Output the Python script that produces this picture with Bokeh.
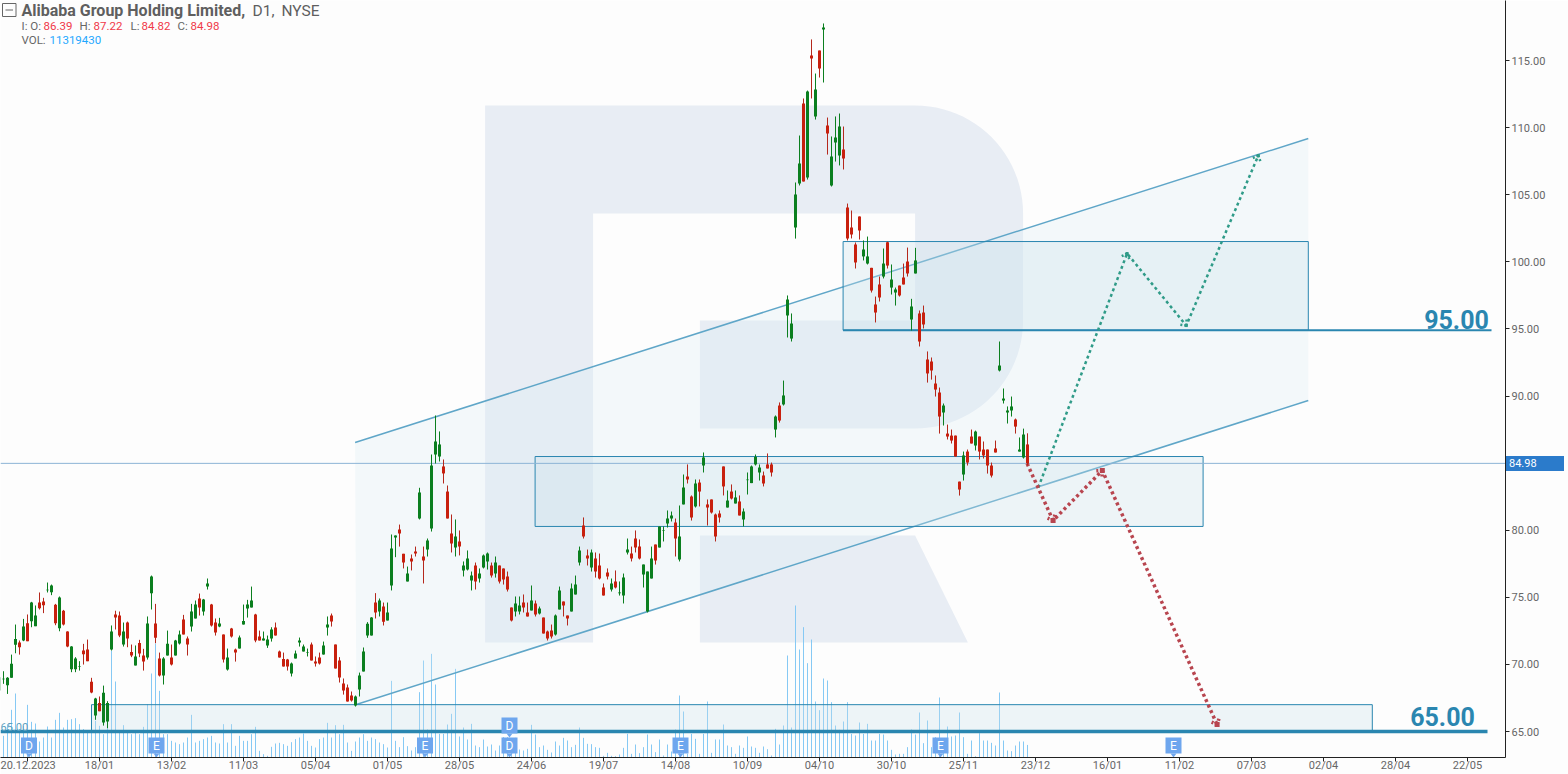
import math
from bokeh.plotting import figure
from bokeh.models import ColumnDataSource, FixedTicker, Range1d, Div
from bokeh.core.properties import value
from bokeh.embed import file_html
from bokeh.resources import INLINE

opens = [
68.05,68.90,68.45,69.0,71.46,71.63,71.78,73.07,73.22,72.85,
74.61,74.68,75.52,75.38,74.44,72.70,74.0,72.45,69.64,69.64,
69.80,71.03,71.11,68.70,66.19,67.13,65.67,65.74,71.11,73.72,
73.64,71.48,73.12,70.93,69.92,71.60,70.66,70.51,75.31,73.05,
70.44,69.17,70.66,70.51,70.66,71.55,73.34,71.93,72.82,73.42,
74.91,73.94,75.80,74.46,73.12,72.82,72.23,69.62,72.67,71.11,
71.18,72.97,74.16,74.24,73.72,72.08,71.78,71.41,71.93,72.75,
70.96,70.41,70.36,69.32,70.44,71.63,70.96,70.89,71.48,70.21,
70.51,70.73,72.75,73.64,71.48,70.29,68.57,68.28,67.68,66.93,
68.13,69.47,72.15,72.15,74.61,73.94,74.31,73.27,75.88,79.46,
80.05,78.24,76.18,77.89,78.41,80.87,78.04,78.56,80.13,85.64,
85.49,84.75,82.88,79.75,78.71,79.16,77.0,77.07,76.25,77.37,
76.40,77.22,77.67,77.37,76.77,77.37,77.15,76.55,74.24,73.94,
73.94,74.61,73.87,74.02,74.54,73.79,73.49,72.45,72.52,72.23,
74.09,74.69,73.64,73.94,75.21,77.59,80.35,78.11,77.22,77.89,
77.37,75.73,76.85,75.58,76.18,75.31,75.13,78.34,78.26,79.38,
78.78,76.70,73.94,76.40,78.93,78.71,79.96,80.50,80.87,80.57,
77.82,81.92,84.0,82.51,81.77,83.55,84.82,81.92,82.29,81.17,
81.24,84.75,81.69,82.88,81.99,82.14,80.80,83.73,83.51,84.90,
84.30,84.08,84.90,84.90,87.50,89.29,89.37,96.0,94.28,102.56,
105.83,111.80,106.28,115.37,110.83,115.74,117.31,110.16,105.69,108.89,
107.93,108.37,104.05,102.56,101.29,103.38,100.40,99.87,99.55,96.82,
98.31,98.90,101.46,98.08,97.71,98.23,98.83,100.02,95.70,99.13,
96.15,96.22,92.72,92.57,90.93,90.26,88.77,87.20,87.05,87.05,
83.62,84.15,85.86,86.98,86.31,86.98,86.01,86.01,84.82,86.09,
91.90,89.66,88.77,88.92,88.25,85.86,85.42,86.39]

highs = [
69.17,69.49,69.05,70.73,72.97,71.78,73.39,73.72,74.66,74.39,
75.36,74.96,76.10,75.95,74.51,75.06,74.06,72.47,71.36,70.54,
70.24,71.53,71.85,69.0,67.51,67.61,68.42,67.26,72.90,74.0,
73.94,73.12,73.19,71.48,71.41,71.83,71.16,73.57,76.62,74.51,
70.88,70.54,72.52,71.48,71.83,72.52,73.69,72.08,74.51,74.76,
75.28,74.88,76.40,74.51,73.42,73.47,72.23,71.18,72.72,71.18,
72.15,74.46,74.81,75.80,73.77,72.52,72.45,72.15,72.77,73.12,
71.03,70.88,70.41,70.14,71.03,72.0,71.48,71.18,71.63,70.59,
70.88,71.70,73.57,73.79,71.48,70.54,68.95,68.50,67.98,67.68,
69.39,71.26,73.15,73.52,75.31,74.91,74.61,74.61,79.68,79.61,
80.42,78.24,77.29,78.19,78.78,83.16,78.78,79.38,85.64,88.55,
87.36,85.27,83.33,81.17,80.80,79.98,77.67,78.49,76.92,77.59,
77.15,78.19,78.34,77.59,78.04,77.37,77.15,76.92,74.24,75.06,
75.06,75.21,74.61,75.88,74.76,74.31,73.49,72.52,72.97,73.72,
75.80,74.69,73.64,76.03,76.62,78.78,80.95,78.56,78.56,78.34,
78.26,76.03,77.15,76.40,77.0,76.18,76.77,79.38,78.78,79.98,
79.31,77.44,76.92,78.78,78.93,80.28,80.28,81.47,81.39,80.87,
81.84,84.15,84.90,82.59,83.78,83.78,85.79,82.29,82.29,81.24,
81.47,84.75,82.96,83.41,82.96,82.59,81.62,84.30,84.82,85.64,
84.90,84.37,85.72,85.04,88.55,89.52,91.15,97.49,96.15,105.91,
109.41,112.17,112.76,116.57,114.03,115.74,117.76,110.75,109.34,110.83,
111.05,110.08,104.34,103.82,101.44,103.38,101.59,101.88,99.55,97.41,
98.90,100.99,101.50,99.80,98.08,98.23,99.87,101.06,97.24,101.04,
96.37,96.74,93.32,92.87,91.53,90.63,89.44,87.87,87.50,87.05,
83.62,85.86,86.01,87.50,87.42,86.98,86.61,86.01,85.04,86.68,
94.06,90.56,89.22,89.96,88.32,86.91,87.57,87.22]

lows = [
68.00,68.55,67.80,69.0,70.83,70.73,71.73,71.73,72.77,72.85,
74.09,73.82,75.36,75.16,72.92,72.47,72.90,71.28,69.42,69.42,
69.54,69.99,70.24,67.85,65.87,66.51,65.44,65.25,71.03,72.6,
72.03,71.33,71.28,70.54,69.92,70.54,69.54,70.36,74.09,71.58,
69.10,68.50,70.66,69.92,70.66,71.48,72.23,70.66,72.45,73.42,
73.64,73.64,75.58,72.82,72.15,72.77,70.14,69.54,72.0,70.21,
71.18,72.97,73.49,74.24,71.65,71.78,71.78,71.23,71.70,72.15,
70.51,69.84,69.54,69.10,70.44,71.33,70.96,70.59,70.29,69.84,
69.99,70.73,72.15,72.82,69.69,68.65,67.75,67.23,67.23,66.86,
67.61,69.47,71.98,72.15,73.42,73.57,72.90,73.27,75.51,77.99,
78.78,77.15,76.18,77.0,78.04,80.80,76.03,78.04,79.90,84.97,
85.12,83.48,80.87,78.34,78.04,78.12,76.55,77.0,75.51,75.58,
76.10,77.15,77.07,76.47,76.47,76.03,75.95,75.43,73.20,73.57,
73.72,73.87,73.57,74.02,73.57,73.72,72.30,71.78,71.93,72.15,
74.09,73.57,72.90,73.94,75.21,77.37,79.38,77.37,76.92,76.47,
76.33,75.13,76.33,75.43,75.66,75.13,74.54,78.19,77.67,78.34,
77.82,75.73,73.87,76.40,77.44,78.71,79.16,80.20,80.65,78.04,
77.67,81.92,83.48,80.72,81.69,81.77,84.30,80.35,81.24,79.16,
80.57,82.59,81.69,82.29,81.99,81.10,80.28,82.66,83.51,84.82,
83.70,83.26,84.60,84.0,86.91,88.02,89.29,94.36,94.06,101.73,
105.69,105.98,106.13,112.17,110.60,113.73,113.36,107.99,105.61,107.47,
107.18,106.88,101.59,101.74,99.50,101.66,100.10,99.80,97.71,95.48,
97.04,98.76,99.50,97.56,96.74,97.41,98.31,98.90,94.88,99.13,
93.69,95.03,91.0,91.22,89.96,87.20,87.80,86.76,86.46,85.49,
82.58,83.70,84.82,86.46,85.94,85.27,85.34,84.22,83.93,85.79,
91.83,89.44,87.95,88.47,87.20,85.86,85.34,84.82]

closes = [
69.05,68.93,69.00,70.04,71.90,71.28,72.82,71.73,74.61,73.64,
74.19,74.41,75.57,75.88,73.07,74.98,72.97,71.33,71.33,70.44,
69.84,70.76,70.24,67.90,67.46,66.51,67.88,67.13,72.45,73.49,
72.15,72.45,71.93,70.66,70.59,70.81,70.21,73.05,76.55,71.98,
69.17,70.44,71.53,69.99,71.78,72.23,72.23,71.48,73.94,74.46,
74.24,74.83,76.03,72.90,72.37,73.05,70.36,70.51,72.08,70.88,
72.0,73.24,74.46,74.76,71.78,71.78,71.93,71.85,72.60,72.15,
70.51,69.84,69.84,70.06,70.81,71.78,71.33,70.93,70.29,70.06,
70.06,71.41,72.97,73.19,69.69,69.02,68.05,67.23,67.31,67.61,
69.17,70.96,73.02,73.49,73.87,74.76,73.18,73.87,78.64,79.61,
79.75,77.59,76.77,77.67,78.26,82.81,77.74,79.23,84.82,86.61,
86.39,84.23,80.87,79.01,79.53,78.78,77.37,77.89,76.62,76.18,
76.77,78.11,78.26,76.62,77.59,76.18,76.33,75.58,73.27,74.54,
74.39,74.24,73.57,74.76,73.72,74.17,72.30,71.93,72.08,73.64,
75.51,74.39,73.42,75.65,75.95,78.49,79.53,77.89,78.34,76.92,
76.40,75.13,76.55,76.03,75.73,75.35,76.47,78.56,77.89,78.71,
77.89,77.44,76.92,77.89,77.74,80.28,80.0,80.87,81.10,79.38,
79.53,83.18,83.78,80.95,83.48,82.88,85.42,81.69,81.32,79.53,
80.95,83.26,82.21,82.36,82.44,81.10,81.39,83.77,84.75,85.47,
84.67,83.48,84.60,84.30,88.47,88.17,90.04,97.19,95.40,105.01,
107.33,105.98,112.69,115.15,112.84,114.40,117.46,109.56,107.85,109.26,
110.08,107.70,101.73,102.03,99.95,102.33,100.92,100.40,97.86,96.22,
97.34,99.87,99.72,98.68,97.94,97.49,98.31,99.13,96.67,100.10,
94.06,95.33,91.68,91.90,90.48,88.47,89.29,86.98,86.68,85.49,
83.03,85.57,85.04,86.46,87.35,85.86,85.57,84.82,84.07,85.79,
92.27,89.81,88.92,89.22,87.72,86.01,87.13,84.98]

volumes_m = [
24,19.5,30,42.9,57.6,25.5,28.5,47.4,32.1,30.6,
14.4,18,27.9,18,33.9,40.2,27,33.9,34.5,35.4,
30,25.5,22.5,22.5,33,28.5,21,33,96,68.4,
24,29.1,22.5,21,22.5,21,27.6,48,75.6,102.6,
60,21,21,15,13.5,12,13.5,18,38.4,13.5,
15,16.5,18,19.5,13.5,12.6,30,13.5,30,10.5,
19.5,15,15,21,27.6,6,3,1.5,9.6,12.6,
13.2,12,10.5,13.8,16.5,18,21.6,15,10.5,9,
16.5,18,31.2,18,29.1,21,29.4,13.5,6,14.4,
18,21,15,18,16.5,13.5,12,9,69,15,
9.3,18.3,10.2,6.3,9.3,58.8,87.3,25.2,93.3,65.7,
21.3,21.3,29.7,39.3,79.8,18.9,27,16.2,30.3,10.8,
9.3,16.2,9.9,11.7,6.3,10.8,18.3,18.3,9.3,17.7,
7.2,6.3,7.8,29.4,20.7,9.3,10.8,6.9,4.5,14.4,
10.8,17.7,15.3,9.3,11.4,27,17.7,12.3,12,9.3,
8.7,1.5,4.2,1.5,1.2,2.7,8.7,21.3,3.3,11.7,
3.9,9.3,20.7,11.7,4.8,16.2,1.8,11.7,5.4,25.2,
55.8,41.4,3.3,21.3,16.8,3.3,21.3,50.4,4.2,16.2,
16.2,29.7,10.8,9.3,3.3,10.8,8.7,18.9,9.9,8.7,
4.2,9.9,7.5,1.8,25.8,11.7,28.8,91.8,27,136.8,
97.2,117.3,84.9,106.2,50.4,42.6,71.1,69.3,49.8,28.8,
24.9,32.4,49.8,21.3,19.8,31.5,21.3,30.3,15.3,15.3,
21.3,20.7,15.3,6.9,2.7,3.3,3.3,9.3,25.2,20.7,
40.5,12.9,33.3,9.3,18.3,54,15.3,27.9,18.9,19.8,
40.5,18.3,3.3,15.3,1.2,21.9,15.3,15.3,13.2,10.8,
58.5,15.3,6.3,5.7,10.8,14.4,14.4,11.32]

x_tick_bars = [7,25,43,61,79,97,115,133,151,169,187,205,223,241,259,277,295,313,331,349,367]
x_tick_labels = ["20.12.2023","18/01","13/02","11/03","05/04","01/05","28/05","24/06","19/07","14/08",
                 "10/09","04/10","30/10","25/11","23/12","16/01","11/02","07/03","02/04","28/04","22/05"]
y_ticks = [65,70,75,80,85,90,95,100,105,110,115]

LAST_PRICE = 84.98
LEVEL_HIGH = 95.00
LEVEL_LOW = 65.00

channel_upper = ([88.9, 327.2], [86.53, 109.19])
channel_lower = ([89.2, 327.2], [67.01, 89.66])
box_upper = (210.9, 327.2, 94.9, 101.51)
box_middle = (133.9, 300.9, 80.28, 85.49)
box_lower = (23.0, 343.2, 65.0, 67.0)
path_up = ([259.7, 281.9, 296.7, 314.7], [83.18, 100.62, 95.25, 107.92])
path_down = ([256.9, 263.4, 275.7, 304.4], [84.97, 80.72, 84.45, 65.52])
event_marks = [("D", 28.5, 737), ("E", 156, 737), ("E", 424.5, 737), ("D", 509, 717),
               ("D", 509, 737), ("E", 680, 737), ("E", 940, 737), ("E", 1173, 737)]

FONT = value("Roboto")
GREEN, RED = "#0b7f1f", "#c8200e"
TEAL = "#2a86b0"

def fx(px):
    return (px + 1.0) / 4.0

def fy(py):
    return 65 + (731.0 - py) / 13.42

p = figure(width=1568, height=774, output_backend="svg", toolbar_location=None,
           x_range=Range1d(fx(0), fx(1505)), y_range=Range1d(fy(757), fy(0)),
           y_axis_location="right", min_border_left=0, min_border_top=0,
           min_border_right=63, min_border_bottom=17,
           background_fill_color="#fdfdfd", border_fill_color="#fdfdfd",
           outline_line_color=None,
           styles={"position": "absolute", "left": "0px", "top": "0px"})
p.grid.visible = False
p.extra_y_ranges = {"vol": Range1d(0, 681.3)}

for ax in (p.xaxis[0], p.yaxis[0]):
    ax.axis_line_color = "#222222"
    ax.major_tick_line_color = "#222222"
    ax.minor_tick_line_color = None
    ax.major_tick_in = 0
    ax.major_tick_out = 4
    ax.major_label_text_color = "#666666"
    ax.major_label_text_font = "Roboto"
    ax.major_label_text_font_size = "11px"
    ax.major_label_standoff = 2
p.xaxis[0].major_label_standoff = -3
p.xaxis[0].ticker = FixedTicker(ticks=x_tick_bars)
p.xaxis[0].major_label_overrides = dict(zip(x_tick_bars, x_tick_labels))
p.yaxis[0].ticker = FixedTicker(ticks=y_ticks)
p.yaxis[0].major_label_overrides = {t: f"{t:.2f}" for t in y_ticks}

# watermark "R"
def arc(cx, cy, a0, a1):
    rx, ry = 27.0, 8.05
    return [(cx + rx * math.cos(math.radians(a0 + (a1 - a0) * i / 24)),
             cy + ry * math.sin(math.radians(a0 + (a1 - a0) * i / 24))) for i in range(25)]

logo = [(121.4, 111.65)] + arc(228.9, 103.6, 90, 0) + arc(228.9, 95.63, 0, -90) + [
    (175.1, 87.58), (175.1, 95.63), (228.9, 95.63), (228.9, 103.6), (148.4, 103.6),
    (148.4, 71.63), (121.4, 71.63)]
leg = [(175.1, 79.6), (228.9, 79.6), (242.1, 71.63), (175.1, 71.63)]
LOGO = "#e8edf4"
p.patch([a for a, b in logo], [b for a, b in logo], fill_color=LOGO, line_color=None)
p.patch([a for a, b in leg], [b for a, b in leg], fill_color=LOGO, line_color=None)

# volumes
n = len(closes)
bars = list(range(n))
p.segment(bars, [0] * n, bars, volumes_m, y_range_name="vol", line_color="#86c9f4", line_width=1)

# channel
p.patch(channel_upper[0] + channel_lower[0][::-1], channel_upper[1] + channel_lower[1][::-1],
        fill_color="#dcecf4", fill_alpha=0.28, line_color=None)
for xs, ys in (channel_upper, channel_lower):
    p.line(xs, ys, line_color="#5fa6c8", line_width=1.5)

# zones
for l, r, b, t in (box_upper, box_middle, box_lower):
    p.quad(left=l, right=r, bottom=b, top=t, fill_color="#cbe0ec", fill_alpha=0.3,
           line_color=TEAL, line_width=1)

# levels
p.segment(fx(0), LAST_PRICE, fx(1505), LAST_PRICE, line_color="#8db4d6", line_width=1)
p.segment(box_upper[0], box_upper[2], fx(1491), box_upper[2], line_color=TEAL, line_width=2)
p.segment(fx(0), LEVEL_LOW, fx(1487), LEVEL_LOW, line_color=TEAL, line_width=3.5)

# forecast paths
def draw_path(xs, ys, color, width, dash, tip):
    p.line(xs, ys, line_color=color, line_width=width, line_dash=dash)
    wx0, wy0, wx1, wy1 = [], [], [], []
    for i in range(1, len(xs)):
        ax_, ay_ = xs[i - 1] * 4, -ys[i - 1] * 13.42
        bx_, by_ = xs[i] * 4, -ys[i] * 13.42
        ang = math.atan2(by_ - ay_, bx_ - ax_)
        for d in (2.4, -2.4):
            wx0.append(xs[i]); wy0.append(ys[i])
            wx1.append(xs[i] + 7 * math.cos(ang + d) / 4)
            wy1.append(ys[i] - 7 * math.sin(ang + d) / 13.42)
    p.segment(wx0, wy0, wx1, wy1, line_color=color, line_width=width, line_dash="2 2")
    p.scatter(xs[1:], ys[1:], marker="square", size=tip, fill_color=color, line_color=None)

draw_path(path_up[0], path_up[1], "#2f9b88", 2.5, "3 3", 3)
draw_path(path_down[0], path_down[1], "#b8454f", 3.5, "3 3", 5)

# candles
colors = [GREEN if c >= o else RED for o, c in zip(opens, closes)]
wicks = ["#0b7f1f" if c >= o else "#b5281c" for o, c in zip(opens, closes)]
src = ColumnDataSource(dict(x=bars, o=opens, h=highs, l=lows, c=closes, col=colors, wick=wicks))
p.segment("x", "h", "x", "l", source=src, line_color="wick", line_width=1)
p.vbar("x", width=0.75, top="o", bottom="c", source=src, fill_color="col", line_color=None)

# event markers
for letter, cx, top in event_marks:
    p.quad(left=fx(cx - 8), right=fx(cx + 8), top=fy(top), bottom=fy(top + 16),
           fill_color="#6ea6ee", line_color=None)
    p.patch([fx(cx - 3), fx(cx + 3), fx(cx)], [fy(top + 16), fy(top + 16), fy(top + 20)],
            fill_color="#6ea6ee", line_color=None)
    p.text([fx(cx)], [fy(top + 8)], text=[letter], text_color="#ffffff", text_font=FONT,
           text_font_size="12px", text_align="center", text_baseline="middle")

def put(px, py, txt, color, size="12px", style="normal", align="left"):
    p.text([fx(px)], [fy(py)], text=[txt], text_color=color, text_font=FONT, text_font_size=size,
           text_font_style=style, text_align=align, text_baseline="middle")

GREY = "#666666"
PRICE_RED = "#f0394a"
# header
p.quad(left=fx(2), right=fx(15.5), top=fy(3), bottom=fy(16), fill_color=None, line_color=GREY, line_width=1)
p.segment(fx(5), fy(9.5), fx(12.5), fy(9.5), line_color=GREY, line_width=1)
put(21, 10, "Alibaba Group Holding Limited,", "#5f5f5f", "16px", "bold")
put(252, 10, "D1,", "#5f5f5f", "15.5px")
put(281, 10, "NYSE", "#5f5f5f", "15.5px")
for xp, txt, col in [(21, "I: O:", GREY), (43, "86.39", PRICE_RED), (79, "H:", GREY), (93, "87.22", PRICE_RED),
                     (130, "L:", GREY), (141, "84.82", PRICE_RED), (177, "C:", GREY), (190, "84.98", PRICE_RED)]:
    put(xp, 25, txt, col, "11.5px")
put(21, 39, "VOL:", GREY, "11.5px")
put(49, 39, "11319430", "#1fa8ff", "11.5px")

# level captions
put(1456, 319, "95.00", TEAL, "25px", "bold", "center")
put(1442, 716, "65.00", TEAL, "25px", "bold", "center")
put(0, 726.5, "65.00", "#5a9fc0", "11px")

# current price tag
tag = Div(text="84.98", width=58, height=15,
          styles={"position": "absolute", "left": "1506px", "top": "456px", "background-color": "#2b7bcb",
                  "color": "#ffffff", "font-family": "Roboto", "font-size": "11px", "line-height": "15px",
                  "padding-left": "3px", "box-sizing": "border-box", "margin": "0", "z-index": "10"})

open("out.html", "w").write(file_html([p, tag], INLINE))
